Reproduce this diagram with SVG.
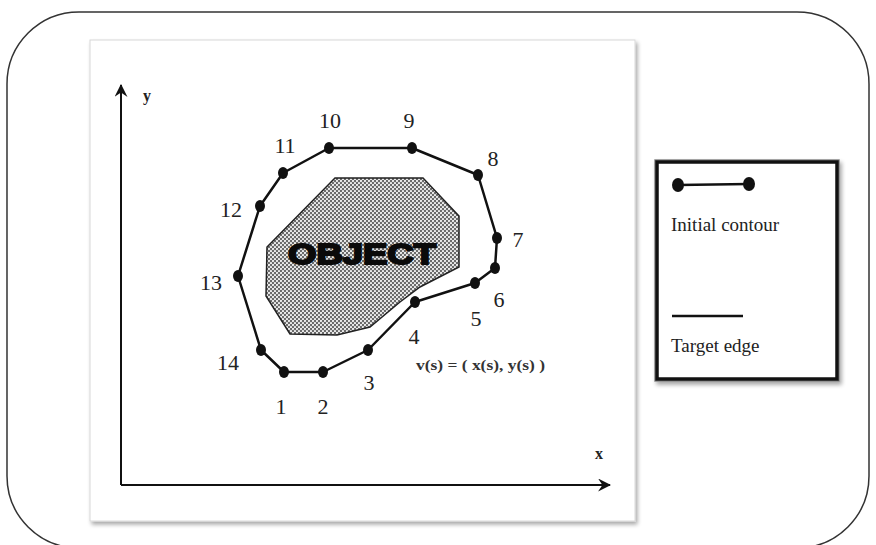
<svg xmlns="http://www.w3.org/2000/svg" width="876" height="545" viewBox="0 0 876 545">
<style>
.num{font-family:"Liberation Serif",serif;font-size:22px;fill:#222;text-anchor:middle}
.ax{font-family:"Liberation Serif",serif;font-size:16px;font-weight:bold;fill:#222}
.leg{font-family:"Liberation Serif",serif;font-size:19px;fill:#222}
.edge{fill:none;stroke:#111;stroke-width:2.5;stroke-linejoin:round}
.dot{fill:#111}
</style>
<defs>
<pattern id="hatch" width="4" height="4" patternUnits="userSpaceOnUse">
<rect width="4" height="4" fill="#6a6a6a"/>
<circle cx="1" cy="1" r="1.1" fill="#f4f4f4"/>
<circle cx="3" cy="3" r="1.1" fill="#f4f4f4"/>
</pattern>
<marker id="arr" viewBox="0 0 12 12" refX="11" refY="6" markerWidth="13" markerHeight="13" markerUnits="userSpaceOnUse" orient="auto">
<path d="M0,0 L12,6 L0,12 L4,6 Z" fill="#111"/>
</marker>
<filter id="sh" x="-5%" y="-5%" width="110%" height="110%">
<feGaussianBlur in="SourceAlpha" stdDeviation="2"/>
<feOffset dx="2" dy="3"/>
<feComponentTransfer><feFuncA type="linear" slope="0.35"/></feComponentTransfer>
<feMerge><feMergeNode/><feMergeNode in="SourceGraphic"/></feMerge>
</filter>
</defs>
<rect width="876" height="545" fill="#fff"/>
<rect id="frame" x="7" y="12" width="862" height="536" rx="72" ry="72" fill="#fff" stroke="#333" stroke-width="1.5"/>
<g id="panel">
<rect x="90" y="40" width="545" height="481" fill="#fff" stroke="#d8d8d8" stroke-width="1" filter="url(#sh)"/>
</g>
<g id="axes">
<line x1="121" y1="485" x2="121" y2="85" stroke="#111" stroke-width="2" marker-end="url(#arr)"/>
<line x1="121" y1="485" x2="610" y2="485" stroke="#111" stroke-width="2" marker-end="url(#arr)"/>
<text class="ax" x="143" y="101">y</text>
<text class="ax" x="595" y="459">x</text>
</g>
<g id="object">
<polygon points="335,178 423,178 459,216 459,267 420,287 400,302 370,327 337,335 290,334 266,296 267,247" fill="url(#hatch)" stroke="#222" stroke-width="1.5"/>
<text x="362" y="264" font-family="'Liberation Sans',Arial,sans-serif" font-size="29" font-weight="900" fill="#0a0a0a" stroke="#0a0a0a" stroke-width="2" textLength="148" lengthAdjust="spacingAndGlyphs" text-anchor="middle">OBJECT</text>
</g>
<g id="connectors">
<polygon class="edge" points="284,372 323,372 368,350 415,302 475,283 495,268 497,238 478,175 412,148 329,148 283,173 260,206 238,276 261,350"/>
</g>
<g id="points">
<ellipse class="dot" cx="284" cy="372" rx="5" ry="6"/>
<ellipse class="dot" cx="323" cy="372" rx="5" ry="6"/>
<ellipse class="dot" cx="368" cy="350" rx="5" ry="6"/>
<ellipse class="dot" cx="415" cy="302" rx="5" ry="6"/>
<ellipse class="dot" cx="475" cy="283" rx="5" ry="6"/>
<ellipse class="dot" cx="495" cy="268" rx="5" ry="6"/>
<ellipse class="dot" cx="497" cy="238" rx="5" ry="6"/>
<ellipse class="dot" cx="478" cy="175" rx="5" ry="6"/>
<ellipse class="dot" cx="412" cy="148" rx="5" ry="6"/>
<ellipse class="dot" cx="329" cy="148" rx="5" ry="6"/>
<ellipse class="dot" cx="283" cy="173" rx="5" ry="6"/>
<ellipse class="dot" cx="260" cy="206" rx="5" ry="6"/>
<ellipse class="dot" cx="238" cy="276" rx="5" ry="6"/>
<ellipse class="dot" cx="261" cy="350" rx="5" ry="6"/>
</g>
<g id="labels">
<text class="num" x="281" y="414">1</text>
<text class="num" x="323" y="414">2</text>
<text class="num" x="369" y="390">3</text>
<text class="num" x="414" y="344">4</text>
<text class="num" x="476" y="326">5</text>
<text class="num" x="499" y="307">6</text>
<text class="num" x="518" y="247">7</text>
<text class="num" x="493" y="166">8</text>
<text class="num" x="409" y="128">9</text>
<text class="num" x="330" y="128">10</text>
<text class="num" x="285" y="153">11</text>
<text class="num" x="231" y="217">12</text>
<text class="num" x="211" y="290">13</text>
<text class="num" x="228" y="370">14</text>
<text x="416" y="370" font-family="'Liberation Serif',serif" font-size="15" font-weight="bold" fill="#333" textLength="129" lengthAdjust="spacingAndGlyphs">v(s) = ( x(s), y(s) )</text>
</g>
<g id="legend">
<rect x="655" y="160" width="184" height="221" fill="#fff" stroke="#888" stroke-width="1.5" filter="url(#sh)"/>
<rect x="657" y="162" width="180" height="217" fill="none" stroke="#111" stroke-width="3.5"/>
<line x1="678" y1="185" x2="749" y2="184" stroke="#111" stroke-width="2.5"/>
<ellipse class="dot" cx="678" cy="185" rx="6" ry="7"/>
<ellipse class="dot" cx="749" cy="184" rx="6" ry="7"/>
<text class="leg" x="671" y="231">Initial contour</text>
<line x1="672" y1="316" x2="743" y2="316" stroke="#111" stroke-width="2.5"/>
<text class="leg" x="671" y="352">Target edge</text>
</g>
</svg>
